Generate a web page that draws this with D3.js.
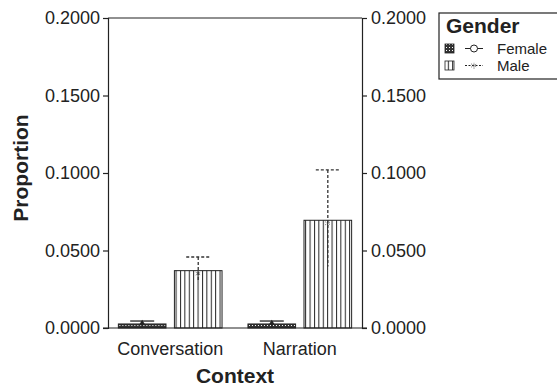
<!DOCTYPE html>
<html>
<head>
<meta charset="utf-8">
<script src="https://cdn.jsdelivr.net/npm/d3@7"></script>
<style>
  body { margin: 0; background: #fff; }
  svg text { font-family: "Liberation Sans", Arial, Helvetica, sans-serif; fill: #222; }
  .tick-label { font-size: 18px; }
  .axis-title { font-size: 21px; font-weight: bold; }
  .legend-label { font-size: 15px; }
</style>
</head>
<body>
<div id="chart"></div>
<script>
// --- Proportion by context and gender, bars with error bars ---

const contexts = ['Conversation', 'Narration'];
const genders = ['Female', 'Male'];
// mean proportion per context, per gender
const femaleMeans = [0.0026, 0.0026];
const maleMeans = [0.0370, 0.0695];
// error bar upper / lower ends
const femaleUpper = [0.0045, 0.0045];
const femaleLower = [0.0008, 0.0008];
const maleUpper = [0.0458, 0.1020];
const maleLower = [0.0305, 0.0396];
const yTicks = [0, 0.05, 0.10, 0.15, 0.20];

const W = 557, H = 387;
const margin = { top: 18, right: 195, bottom: 59, left: 108 };
const width = W - margin.left - margin.right;
const height = H - margin.top - margin.bottom;

const svg = d3.select('#chart').append('svg')
  .attr('width', W)
  .attr('height', H);

const defs = svg.append('defs');

// dense dotted fill for Female
const pf = defs.append('pattern')
  .attr('id', 'pat-female')
  .attr('patternUnits', 'userSpaceOnUse')
  .attr('width', 3).attr('height', 3);
pf.append('rect').attr('width', 3).attr('height', 3).attr('fill', '#333');
pf.append('rect').attr('x', 1).attr('y', 1).attr('width', 1).attr('height', 1).attr('fill', '#fff');

// vertical stripes for Male
const pm = defs.append('pattern')
  .attr('id', 'pat-male')
  .attr('patternUnits', 'userSpaceOnUse')
  .attr('width', 4.4).attr('height', 10);
pm.append('rect').attr('width', 4.4).attr('height', 10).attr('fill', '#fff');
pm.append('line').attr('x1', 0.5).attr('x2', 0.5).attr('y1', 0).attr('y2', 10)
  .attr('stroke', '#222').attr('stroke-width', 1);

const g = svg.append('g')
  .attr('transform', `translate(${margin.left},${margin.top})`);

const x0 = d3.scaleBand()
  .domain(contexts)
  .range([0, width])
  .paddingInner(0.2)
  .paddingOuter(0.08);

const x1 = d3.scaleBand()
  .domain(genders)
  .range([0, x0.bandwidth()])
  .paddingInner(0.15);

const y = d3.scaleLinear().domain([0, 0.2]).range([height, 0]);

// frame: top line
g.append('line')
  .attr('x1', 0).attr('x2', width)
  .attr('y1', 0).attr('y2', 0)
  .attr('stroke', '#222').attr('stroke-width', 1.2);

const leftAxis = g.append('g')
  .call(d3.axisLeft(y).tickValues(yTicks).tickFormat(d3.format('.4f')).tickSizeOuter(0).tickSize(5).tickPadding(3));
const rightAxis = g.append('g')
  .attr('transform', `translate(${width},0)`)
  .call(d3.axisRight(y).tickValues(yTicks).tickFormat(d3.format('.4f')).tickSizeOuter(0).tickSize(5).tickPadding(4));

[leftAxis, rightAxis].forEach(a => {
  a.select('.domain').attr('stroke', '#222').attr('stroke-width', 1.2);
  a.selectAll('.tick line').attr('stroke', '#222').attr('stroke-width', 1.2);
  a.selectAll('.tick text').attr('class', 'tick-label').attr('font-size', null).attr('font-family', null);
});

// bars
const rows = contexts.map((c, i) => ({
  context: c,
  values: [
    { gender: 'Female', mean: femaleMeans[i], hi: femaleUpper[i], lo: femaleLower[i] },
    { gender: 'Male', mean: maleMeans[i], hi: maleUpper[i], lo: maleLower[i] }
  ]
}));

const groups = g.selectAll('.grp').data(rows).enter().append('g')
  .attr('class', 'grp')
  .attr('transform', d => `translate(${x0(d.context)},0)`);

groups.selectAll('rect.bar').data(d => d.values).enter().append('rect')
  .attr('class', 'bar')
  .attr('x', d => x1(d.gender))
  .attr('y', d => y(d.mean))
  .attr('width', x1.bandwidth())
  .attr('height', d => y(0) - y(d.mean))
  .attr('fill', d => d.gender === 'Female' ? 'url(#pat-female)' : 'url(#pat-male)')
  .attr('stroke', '#222')
  .attr('stroke-width', 1);

// error bars
const capW = 24;
groups.selectAll('g.err').data(d => d.values).enter().append('g')
  .attr('class', 'err')
  .each(function (d) {
    const e = d3.select(this);
    const cx = x1(d.gender) + x1.bandwidth() / 2;
    const dash = d.gender === 'Male' ? '3,2' : null;
    const col = d.gender === 'Male' ? '#333' : '#222';
    e.append('line')
      .attr('x1', cx).attr('x2', cx)
      .attr('y1', y(d.hi)).attr('y2', y(d.lo))
      .attr('stroke', col).attr('stroke-width', 1.3)
      .attr('stroke-dasharray', dash);
    e.append('line')
      .attr('x1', cx - capW / 2).attr('x2', cx + capW / 2)
      .attr('y1', y(d.hi)).attr('y2', y(d.hi))
      .attr('stroke', col).attr('stroke-width', 1.3)
      .attr('stroke-dasharray', dash);
    if (d.gender === 'Female') {
      e.append('path')
        .attr('d', d3.symbol(d3.symbolTriangle, 14)())
        .attr('transform', `translate(${cx},${y(d.mean) - 1})`)
        .attr('fill', '#222');
    } else {
      e.append('path')
        .attr('d', d3.symbol(d3.symbolAsterisk, 22)())
        .attr('transform', `translate(${cx},${y(d.mean) + 3})`)
        .attr('fill', 'none').attr('stroke', '#444').attr('stroke-width', 0.9)
        .attr('stroke-dasharray', '1,1');
    }
  });

// baseline across plot
g.append('line')
  .attr('x1', -5).attr('x2', width + 5)
  .attr('y1', y(0)).attr('y2', y(0))
  .attr('stroke', '#222').attr('stroke-width', 1.2);

// category labels
g.selectAll('.cat').data(contexts).enter().append('text')
  .attr('class', 'tick-label')
  .attr('x', d => x0(d) + x0.bandwidth() / 2)
  .attr('y', height + 27)
  .attr('text-anchor', 'middle')
  .text(d => d);

g.append('text')
  .attr('class', 'axis-title')
  .attr('x', width / 2)
  .attr('y', height + 55)
  .attr('text-anchor', 'middle')
  .text('Context');

g.append('text')
  .attr('class', 'axis-title')
  .attr('transform', 'rotate(-90)')
  .attr('x', -height / 2 + 5)
  .attr('y', -80)
  .attr('text-anchor', 'middle')
  .text('Proportion');

// legend
const lg = svg.append('g').attr('transform', 'translate(439,13)');
lg.append('rect')
  .attr('x', 0).attr('y', 0).attr('width', 130).attr('height', 66)
  .attr('fill', '#fff').attr('stroke', '#222').attr('stroke-width', 1.2);
lg.append('text')
  .attr('class', 'axis-title')
  .attr('x', 7).attr('y', 20)
  .text('Gender');

genders.forEach((gd, i) => {
  const ry = 31 + i * 17;
  lg.append('rect')
    .attr('x', 6).attr('y', ry).attr('width', 9).attr('height', 9)
    .attr('fill', gd === 'Female' ? 'url(#pat-female)' : 'url(#pat-male)')
    .attr('stroke', '#222').attr('stroke-width', 0.8);
  const ly = ry + 4.5;
  lg.append('line')
    .attr('x1', 26).attr('x2', 44).attr('y1', ly).attr('y2', ly)
    .attr('stroke', '#222').attr('stroke-width', 1)
    .attr('stroke-dasharray', gd === 'Male' ? '2,1.5' : null);
  if (gd === 'Female') {
    lg.append('circle').attr('cx', 35).attr('cy', ly).attr('r', 3.5)
      .attr('fill', '#fff').attr('stroke', '#222').attr('stroke-width', 1);
  } else {
    lg.append('path')
      .attr('d', d3.symbol(d3.symbolAsterisk, 26)())
      .attr('transform', `translate(35,${ly})`)
      .attr('fill', 'none').attr('stroke', '#444').attr('stroke-width', 0.9)
      .attr('stroke-dasharray', '1,1');
  }
  lg.append('text')
    .attr('class', 'legend-label')
    .attr('x', 58).attr('y', ry + 10)
    .text(gd);
});
</script>
</body>
</html>
